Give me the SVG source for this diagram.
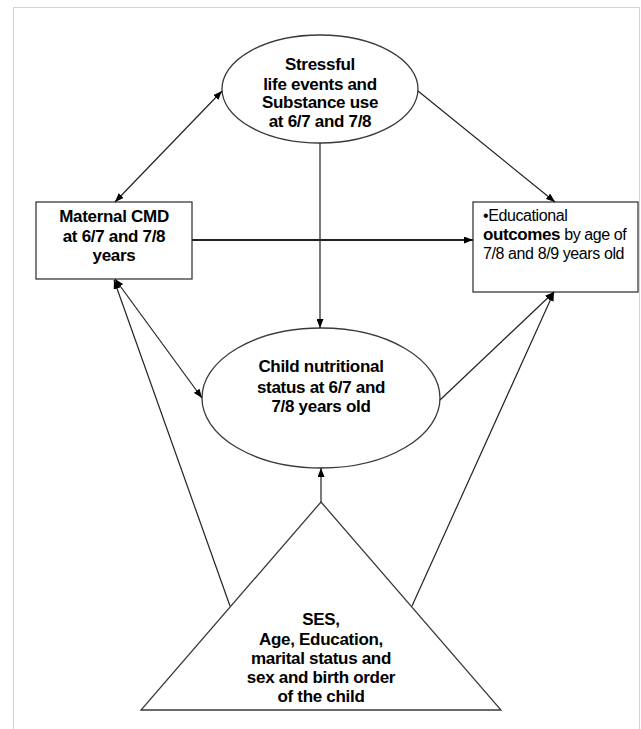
<svg xmlns="http://www.w3.org/2000/svg" width="641" height="729" viewBox="0 0 641 729">
<style>
.frame{fill:none;stroke:#d4d4d4;stroke-width:1}
.shape{fill:#fff;stroke:#3a3a3a;stroke-width:1.3}
.conn{fill:none;stroke:#222;stroke-width:1.2}
.thick{stroke-width:1.9}
.b{font-family:"Liberation Sans",Arial,sans-serif;font-weight:bold;font-size:17px;letter-spacing:-0.3px;fill:#000;text-anchor:middle}
.n{font-family:"Liberation Sans",Arial,sans-serif;font-size:16px;letter-spacing:-0.4px;fill:#000}
.nb{font-weight:bold;font-size:17px}
</style>
<defs>
<marker id="ah" viewBox="0 0 10 10" refX="10" refY="5" markerWidth="9" markerHeight="7" markerUnits="userSpaceOnUse" orient="auto-start-reverse" preserveAspectRatio="none">
<path d="M0,0 L10,5 L0,10 Z" fill="#000"/>
</marker>
</defs>
<rect class="frame" x="13.5" y="7.5" width="626" height="740"/>

<g id="stress">
<ellipse class="shape" cx="320" cy="89" rx="98" ry="54"/>
<text class="b" x="320" y="70">Stressful</text>
<text class="b" x="320" y="90">life events and</text>
<text class="b" x="320" y="108">Substance use</text>
<text class="b" x="320" y="127">at 6/7 and 7/8</text>
</g>

<g id="maternal">
<rect class="shape" x="36" y="202" width="156" height="77"/>
<text class="b" x="114" y="222">Maternal CMD</text>
<text class="b" x="114" y="242">at 6/7 and 7/8</text>
<text class="b" x="114" y="261">years</text>
</g>

<g id="educational">
<rect class="shape" x="473" y="202" width="165" height="90"/>
<text class="n" x="483" y="221">•Educational</text>
<text class="n" x="483" y="240"><tspan class="nb">outcomes</tspan> by age of</text>
<text class="n" x="483" y="259">7/8 and 8/9 years old</text>
</g>

<g id="child">
<ellipse class="shape" cx="321" cy="398" rx="119" ry="70"/>
<text class="b" x="321" y="372">Child  nutritional</text>
<text class="b" x="321" y="393">status at 6/7 and</text>
<text class="b" x="321" y="412">7/8 years old</text>
</g>

<g id="confounders">
<polygon class="shape" points="321,502 501,710 141,710"/>
<text class="b" x="321" y="625">SES,</text>
<text class="b" x="321" y="645">Age, Education,</text>
<text class="b" x="321" y="664">marital status and</text>
<text class="b" x="321" y="683">sex and birth order</text>
<text class="b" x="321" y="702">of the child</text>
</g>

<g id="connectors">
<line class="conn" x1="222" y1="91" x2="115" y2="202" marker-start="url(#ah)" marker-end="url(#ah)"/>
<line class="conn" x1="418" y1="91" x2="555" y2="202" marker-end="url(#ah)"/>
<line class="conn" x1="320" y1="143" x2="320" y2="328" marker-end="url(#ah)"/>
<line class="conn thick" x1="192" y1="240" x2="473" y2="240" marker-end="url(#ah)"/>
<line class="conn" x1="115" y1="279" x2="202" y2="398" marker-start="url(#ah)" marker-end="url(#ah)"/>
<line class="conn" x1="230" y1="606" x2="114" y2="280" marker-end="url(#ah)"/>
<line class="conn" x1="412" y1="606" x2="554" y2="292" marker-end="url(#ah)"/>
<line class="conn" x1="440" y1="400" x2="554" y2="292" marker-end="url(#ah)"/>
<line class="conn" x1="321" y1="502" x2="321" y2="468" marker-end="url(#ah)"/>
</g>
</svg>
